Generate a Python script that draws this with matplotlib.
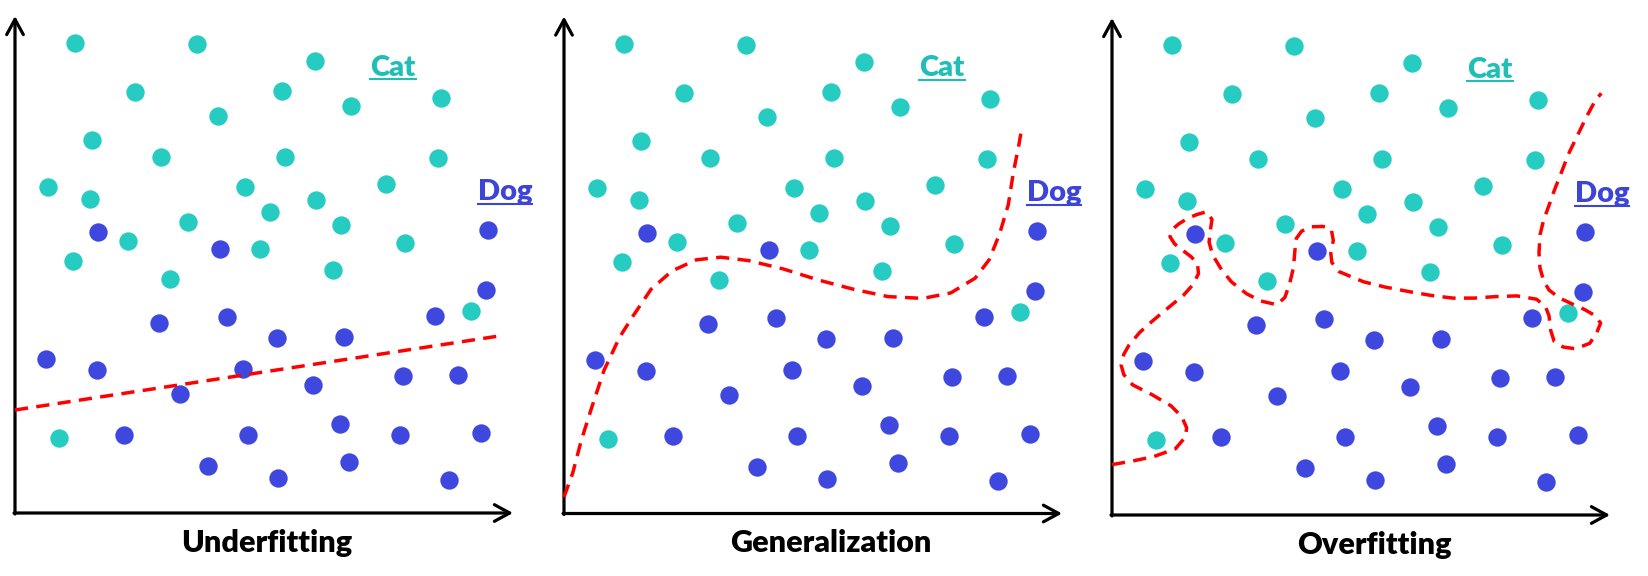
import matplotlib.pyplot as plt

# points (pixels from the axes origin), same data in all three panels
cat_x = [60, 182, 300, 120, 267, 203, 336, 426, 77, 146, 270, 423, 33, 75, 230, 301,
         371, 255, 173, 326, 113, 245, 390, 58, 155, 318, 456, 44]
cat_y = [470, 469, 452, 421, 422, 397, 407, 415, 373, 356, 356, 355, 326, 314, 326, 313,
         329, 301, 291, 288, 272, 264, 270, 252, 234, 243, 202, 75]
dog_x = [83, 205, 473, 471, 144, 212, 262, 329, 420, 31, 82, 228, 165, 298, 388, 443,
         109, 233, 325, 385, 466, 193, 263, 334, 434]
dog_y = [281, 264, 283, 223, 190, 196, 175, 176, 197, 154, 143, 144, 119, 128, 137, 138,
         78, 78, 89, 78, 80, 47, 35, 51, 33]

# decision boundaries
under_x = [0, 484]
under_y = [103, 177]

gen_x = [0, 8.7, 17.4, 27.9, 40.1, 55.7, 69.7, 87.1, 108, 132.4, 156.8, 184.7, 219.5,
         254.4, 289.2, 324, 358.9, 386.8, 411.1, 425.1, 435.5, 444.3, 449.5, 454.7, 458.2]
gen_y = [16.5, 40.4, 73.5, 106.6, 143.4, 176.5, 198.5, 224.3, 242.6, 253.7, 256.3, 252.9,
         244.5, 233.5, 224.3, 216.9, 215.1, 220.6, 235.3, 253.7, 279.4, 308.8, 341.9,
         367.6, 387.9]

over_x = [0, 20.7, 42, 63.4, 73.3, 74.7, 69.8, 59, 40.2, 20.7, 11.8, 9.2, 11.8, 17, 27.8,
          40.2, 55.5, 71.2, 81.1, 86.5, 85.4, 79.3, 71.2, 62.7, 58, 60.4, 66.9, 75.7, 84.7,
          94.6, 100, 98.2, 97.1, 100.7, 109.6, 119.5, 134.5, 148.8, 164.8, 172.9, 177.9,
          181.4, 183, 184.3, 189.6, 198.6, 211, 219.3, 221.3, 218.8, 219.8, 227, 234.1,
          251.9, 273.3, 298.1, 319.5, 340.9, 362.2, 383.5, 404.9, 424.5, 433.4, 437,
          438.7, 442.2, 451.1, 463.6, 477.8, 484.9, 488.6, 483.2, 472.5, 461.8, 447.6,
          437, 431.6, 428, 427, 428, 431.6, 437, 442.2, 449.4, 456.5, 465.4, 474.3, 483.2,
          489.3]
over_y = [50.4, 54, 58.5, 66.2, 77.9, 87.1, 98.2, 109.2, 120.2, 130.1, 140.4, 149.6, 160.7,
          169.9, 182.7, 193.8, 206.6, 219.5, 230.5, 241.5, 251.5, 258.1, 264.3, 271, 278.3,
          285.7, 291.2, 296.7, 300.4, 303.3, 295.6, 283.8, 272.8, 259.9, 245.2, 233.1,
          221.3, 214, 210.3, 217.6, 232.4, 247.1, 265.4, 276.5, 283.8, 288.2, 288.6, 285.7,
          274.6, 261.8, 252.6, 243.4, 240.4, 233.1, 227.9, 223.2, 219.5, 216.9, 216.9,
          218.4, 219.1, 215.8, 208.5, 199.3, 184.6, 173.5, 168, 166.2, 171.7, 182.7, 191.9,
          199.3, 205.5, 210.3, 216.9, 225, 234.2, 247.1, 261.8, 280.1, 294.9, 309.6, 324.3,
          342.6, 361, 379.4, 397.8, 414.3, 421.7]

titles = ["Underfitting", "Generalization", "Overfitting"]
title_x = [252, 267, 262]
boundaries = [(under_x, under_y), (gen_x, gen_y), (over_x, over_y)]
origins = [(15, 513), (564, 513.5), (1112, 515)]

W, H = 1649, 576
CYAN = "#26CCC2"
BLUE = "#3F48DE"
CAT_TXT = "#1FBFB7"
DOG_TXT = "#3D44D8"

fig = plt.figure(figsize=(W / 100, H / 100), dpi=100)
labels = []
for (ox, oy), title, tx, (bx, by) in zip(origins, titles, title_x, boundaries):
    ax = fig.add_axes([ox / W, (H - oy) / H, 500 / W, 500 / H])
    ax.set_xlim(0, 500)
    ax.set_ylim(0, 500)
    ax.axis("off")

    # axes arrows
    arrow = dict(arrowstyle="->,head_length=0.55,head_width=0.3", lw=2.3,
                 color="black", shrinkA=0, shrinkB=0, mutation_scale=20)
    ax.annotate("", xy=(498, 0), xytext=(-1, 0), arrowprops=arrow, annotation_clip=False)
    ax.annotate("", xy=(0, 497), xytext=(0, -1), arrowprops=arrow, annotation_clip=False)

    ax.scatter(cat_x, cat_y, s=175, c=CYAN, linewidths=0, zorder=2)
    ax.scatter(dog_x, dog_y, s=175, c=BLUE, linewidths=0, zorder=2)
    ax.plot(bx, by, color="red", lw=2.5, dashes=(3.8, 2.4), clip_on=False, zorder=3)

    t1 = ax.text(378, 437, "Cat", color=CAT_TXT, fontsize=21, fontweight="heavy",
                 family="Lato", ha="center", va="baseline")
    t2 = ax.text(490, 313, "Dog", color=DOG_TXT, fontsize=21, fontweight="heavy",
                 family="Lato", ha="center", va="baseline", clip_on=False)
    labels.append((ax, t1, 434, CAT_TXT))
    labels.append((ax, t2, 309, DOG_TXT))

    ax.text(tx, -39, title, fontsize=22, fontweight="heavy", family="Lato",
            ha="center", va="baseline")

# underline Cat / Dog
fig.canvas.draw()
r = fig.canvas.get_renderer()
for ax, t, uy, col in labels:
    bb = t.get_window_extent(r).transformed(ax.transData.inverted())
    ax.plot([bb.x0, bb.x1], [uy, uy], color=col, lw=1.5, clip_on=False)

fig.savefig("out.png", dpi=100)
